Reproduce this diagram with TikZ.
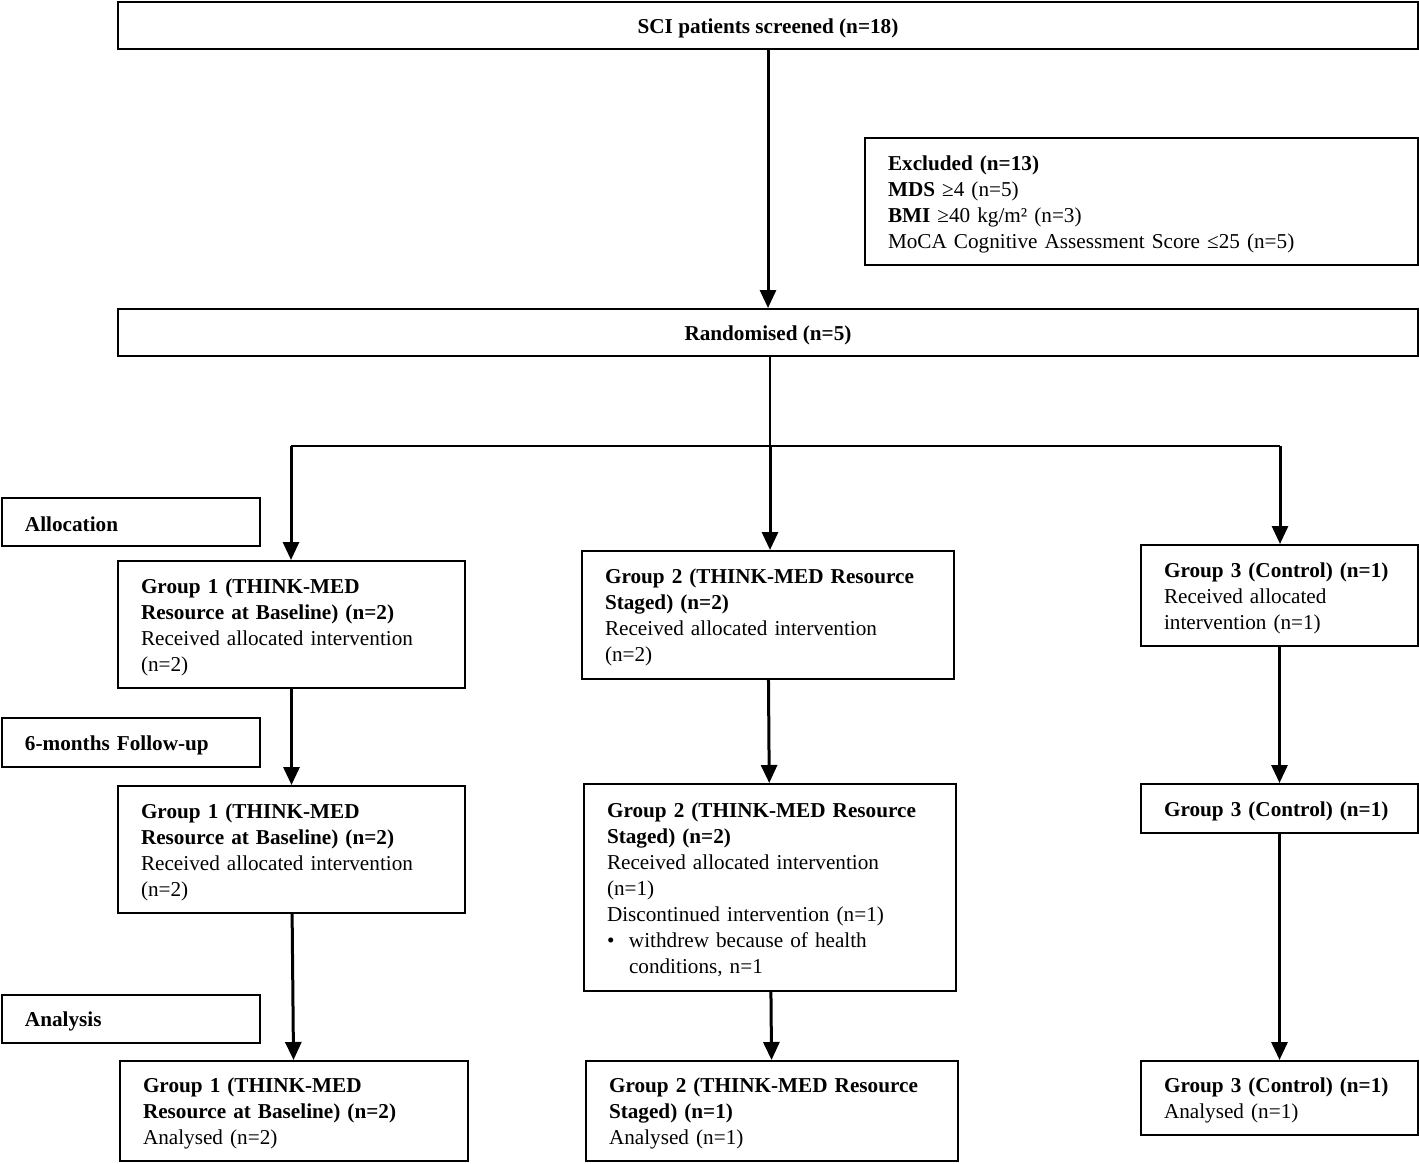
\documentclass[tikz,border=0pt]{standalone}
\usepackage{fontspec}
\setmainfont{Liberation Serif}
\usetikzlibrary{arrows.meta}

\tikzset{
    box/.style={draw,line width=1pt,inner ysep=0pt,inner xsep=11.5pt},
    wide/.style={box,align=center,minimum width=650pt,minimum height=23.5pt,
        text height=9.9pt,text depth=2.3pt},
    group/.style={box,align=left,execute at begin node={\rule{0pt}{10pt}}},
    flow/.style={line width=1.5pt,-{Triangle[width=8pt,length=9pt]}},
    split/.style={line width=0.8pt}
}

\begin{document}
\begin{tikzpicture}[x=0.5pt,y=-0.5pt,font=\fontsize{10.6}{13}\selectfont]
        \useasboundingbox (0,0) rectangle (1419,1163);

        % screening and randomisation
        \node[wide] (screen) at (768,25.5) {\textbf{SCI patients screened (n=18)}};
        \node[group,text width=253.5pt,minimum height=63.5pt] (excl) at (1141.5,201.5)
            {\textbf{Excluded (n=13)}\\
             \textbf{MDS} ≥4 (n=5)\\
             \textbf{BMI} ≥40 kg/m² (n=3)\\
             MoCA Cognitive Assessment Score ≤25 (n=5)};
        \node[wide] (rand) at (768,332.5) {\textbf{Randomised (n=5)}};

        % stage labels on the left
        \node[group,text width=106pt,minimum height=24pt] (alloc) at (131,522) {\textbf{Allocation}};
        \node[group,text width=106pt,minimum height=24.5pt] (follow) at (131,742.5) {\textbf{6-months Follow-up}};
        \node[group,text width=106pt,minimum height=24pt] (analysis) at (131,1019) {\textbf{Analysis}};

        % allocation
        \node[group,text width=150.5pt,minimum height=63.5pt] (g1a) at (291.5,624.5)
            {\textbf{Group 1 (THINK-MED}\\
             \textbf{Resource at Baseline) (n=2)}\\
             Received allocated intervention\\
             (n=2)};
        \node[group,text width=163pt,minimum height=64pt] (g2a) at (768,615)
            {\textbf{Group 2 (THINK-MED Resource}\\
             \textbf{Staged) (n=2)}\\
             Received allocated intervention\\
             (n=2)};
        \node[group,text width=115.5pt,minimum height=50.5pt] (g3a) at (1279.5,595.5)
            {\textbf{Group 3 (Control) (n=1)}\\
             Received allocated\\
             intervention (n=1)};

        % follow-up
        \node[group,text width=150.5pt,minimum height=63.5pt] (g1f) at (291.5,849.5)
            {\textbf{Group 1 (THINK-MED}\\
             \textbf{Resource at Baseline) (n=2)}\\
             Received allocated intervention\\
             (n=2)};
        \node[group,text width=163pt,minimum height=103.5pt] (g2f) at (770,887.5)
            {\textbf{Group 2 (THINK-MED Resource}\\
             \textbf{Staged) (n=2)}\\
             Received allocated intervention\\
             (n=1)\\
             Discontinued intervention (n=1)\\
             \makebox[11pt][l]{\textbullet}withdrew because of health\\
             \hspace*{11pt}conditions, n=1};
        \node[group,text width=115.5pt,minimum height=24.5pt] (g3f) at (1279.5,808.5)
            {\textbf{Group 3 (Control) (n=1)}};

        % analysis
        \node[group,text width=151pt,minimum height=50pt] (g1n) at (294,1111)
            {\textbf{Group 1 (THINK-MED}\\
             \textbf{Resource at Baseline) (n=2)}\\
             Analysed (n=2)};
        \node[group,text width=163pt,minimum height=50pt] (g2n) at (772,1111)
            {\textbf{Group 2 (THINK-MED Resource}\\
             \textbf{Staged) (n=1)}\\
             Analysed (n=1)};
        \node[group,text width=115.5pt,minimum height=37pt] (g3n) at (1279.5,1098)
            {\textbf{Group 3 (Control) (n=1)}\\
             Analysed (n=1)};

        % connectors
        \coordinate (mid) at (770,446);
        \coordinate (left) at (291,446);
        \coordinate (right) at (1280,446);

        \draw[flow] (screen) -- (rand);
        \draw[split] (rand.south -| mid) -- (mid);
        \draw[split] (left) -- (right);
        \draw[flow] (left) -- (left |- g1a.north);
        \draw[flow] (mid) -- (mid |- g2a.north);
        \draw[flow] (right) -- (right |- g3a.north);

        \draw[flow] (g1a) -- (g1f);
        \draw[flow] (g1f) -- (g1n);
        \draw[flow] (g2a) -- (g2f);
        \draw[flow] (g2f) -- (g2n);
        \draw[flow] (g3a) -- (g3f);
        \draw[flow] (g3f) -- (g3n);
    \end{tikzpicture}
\end{document}
